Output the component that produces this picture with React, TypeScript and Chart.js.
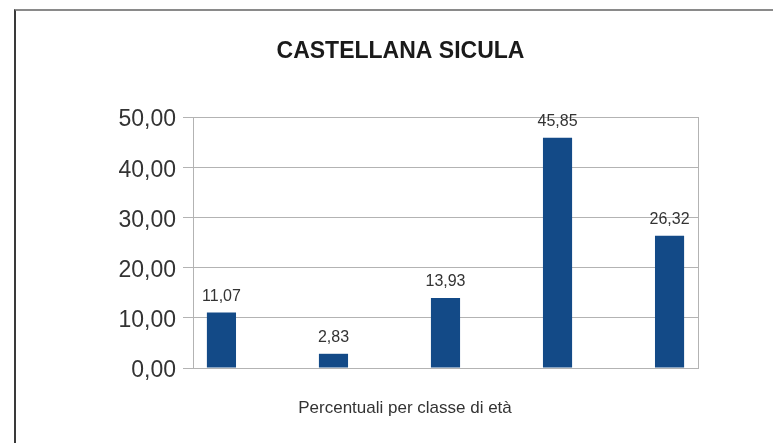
import React, { useEffect, useRef } from 'react';
import { Chart, registerables } from 'chart.js';

Chart.register(...registerables);

const chartTitle = 'CASTELLANA SICULA';
const xAxisTitle = 'Percentuali per classe di età';
const values = [11.07, 2.83, 13.93, 45.85, 26.32];
const yTickValues = [0, 10, 20, 30, 40, 50];

const fmt = (v: number) => v.toFixed(2).replace('.', ',');
const FONT = '"Liberation Sans", Arial, Helvetica, sans-serif';

export default function App() {
  const ref = useRef<HTMLCanvasElement | null>(null);

  useEffect(() => {
    if (!ref.current) return;
    Chart.defaults.font.family = FONT;

    const extraText = {
      id: 'extraText',
      afterDatasetsDraw(chart: any) {
        const ctx = chart.ctx;
        const meta = chart.getDatasetMeta(0);
        ctx.save();
        ctx.font = `16px ${FONT}`;
        ctx.fillStyle = '#333333';
        ctx.textAlign = 'center';
        ctx.textBaseline = 'middle';
        meta.data.forEach((el: any, i: number) => {
          ctx.fillText(fmt(values[i]), el.x, el.y - 16);
        });
        // x-axis title
        ctx.font = `17px ${FONT}`;
        ctx.fillText(xAxisTitle, 405, chart.chartArea.bottom + 40);
        ctx.restore();
      },
    };

    const chart = new Chart(ref.current, {
      type: 'bar',
      data: {
        datasets: [
          {
            data: values.map((v, i) => ({ x: i, y: v })),
            backgroundColor: '#134a87',
            barPercentage: 0.26,
            categoryPercentage: 1,
          },
        ],
      },
      options: {
        animation: false,
        responsive: false,
        maintainAspectRatio: false,
        layout: { padding: { left: 103, right: 75, top: 0, bottom: 0 } },
        plugins: {
          legend: { display: false },
          tooltip: { enabled: false },
          title: {
            display: true,
            text: chartTitle,
            color: '#1a1a1a',
            font: { size: 23, weight: 'bold', family: FONT, lineHeight: 1.2 },
            padding: { top: 38, bottom: 51.4 },
          },
        },
        scales: {
          x: {
            type: 'linear',
            offset: false,
            min: -0.254,
            max: 4.254,
            afterBuildTicks: (s: any) => {
              s.ticks = [{ value: s.min }, { value: s.max }];
            },
            afterFit: (s: any) => {
              s.height = 75;
            },
            ticks: { display: false },
            grid: { color: '#b3b3b3', drawTicks: false, offset: false },
            border: { color: '#b3b3b3' },
          },
          y: {
            min: 0,
            max: 50,
            afterBuildTicks: (s: any) => {
              s.ticks = yTickValues.map((v) => ({ value: v }));
            },
            afterFit: (s: any) => {
              s.width = 90;
            },
            ticks: {
              callback: (v: any) => fmt(Number(v)),
              color: '#333333',
              font: { size: 23, family: FONT },
              padding: 7,
              labelOffset: 3,
            },
            grid: { color: '#b3b3b3', tickLength: 10 },
            border: { color: '#b3b3b3' },
          },
        },
      },
      plugins: [extraText],
    } as any);

    return () => chart.destroy();
  }, []);

  return (
    <div style={{ position: 'fixed', left: 0, top: 0, width: 773, height: 443, background: '#fff', overflow: 'hidden' }}>
      <div
        style={{
          position: 'absolute',
          left: 14,
          top: 9,
          width: 800,
          height: 480,
          borderTop: '2px solid #8a8a8a',
          borderLeft: '2px solid #3a3a3a',
        }}
      />
      <canvas ref={ref} width={773} height={443} style={{ position: 'absolute', left: 0, top: 0, display: 'block' }} />
    </div>
  );
}
